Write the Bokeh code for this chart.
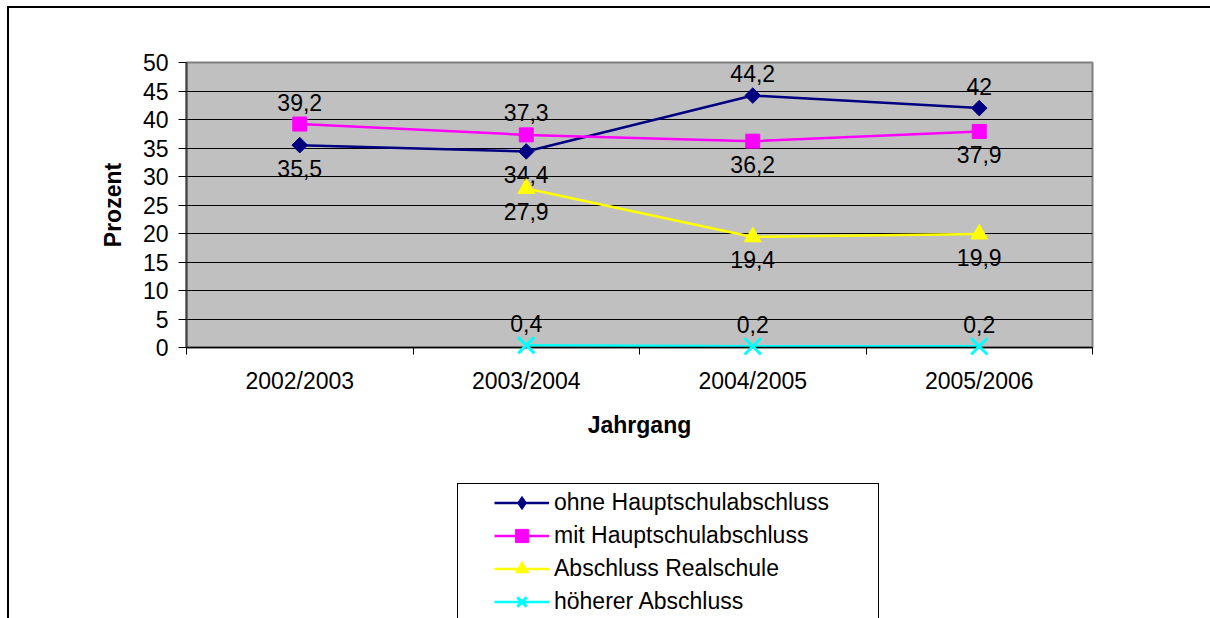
import math
from bokeh.plotting import figure
from bokeh.layouts import column
from bokeh.models import (ColumnDataSource, FixedTicker, Legend, LegendItem,
                          LabelSet, Range1d)
from bokeh.embed import file_html
from bokeh.resources import INLINE
from bokeh.core.properties import value

# ---------------- data ----------------
categories = ["2002/2003", "2003/2004", "2004/2005", "2005/2006"]
ohne_hs = [35.5, 34.4, 44.2, 42.0]
mit_hs = [39.2, 37.3, 36.2, 37.9]
realschule = [float("nan"), 27.9, 19.4, 19.9]
hoeher = [float("nan"), 0.4, 0.2, 0.2]
series_names = ["ohne Hauptschulabschluss", "mit Hauptschulabschluss",
                "Abschluss Realschule", "höherer Abschluss"]
y_ticks = [0, 5, 10, 15, 20, 25, 30, 35, 40, 45, 50]

# label placement per point (style)
ohne_pos = ["below", "below", "above", "above"]
mit_pos = ["above", "above", "below", "below"]
real_pos = ["below", "below", "below", "below"]
hoeher_pos = ["above", "above", "above", "above"]

FONT = "Liberation Sans"
FS = "23px"
W = 1210
H_MAIN, H_LEG = 483, 135

fig = figure(width=W, height=H_MAIN, output_backend="svg", toolbar_location=None,
             x_range=Range1d(0, len(categories)), y_range=Range1d(0, 50),
             min_border_left=186, min_border_right=118,
             min_border_top=62, min_border_bottom=H_MAIN - 347)
# chart-area box edges (top / left) as page decoration
fig.styles = {"background": (
    "linear-gradient(#000,#000) 7px 6px / 2px 100% no-repeat, "
    "linear-gradient(#000,#000) 7px 6px / 100% 2px no-repeat, "
    "#ffffff")}
fig.background_fill_color = "#C0C0C0"
fig.border_fill_alpha = 0
fig.outline_line_color = "#808080"
fig.outline_line_width = 2

xs = [i + 0.5 for i in range(len(categories))]

# axes
xa = fig.xaxis[0]
xa.ticker = FixedTicker(ticks=xs, minor_ticks=list(range(len(categories) + 1)))
xa.major_label_overrides = {x: c for x, c in zip(xs, categories)}
xa.major_tick_out = 0
xa.major_tick_in = 0
xa.minor_tick_out = 7
xa.minor_tick_in = 0
xa.minor_tick_line_color = "#000000"
xa.major_label_standoff = 13
xa.axis_label = "Jahrgang"
xa.axis_label_standoff = 15
xa.axis_line_color = "#000000"
xa.axis_line_width = 1.5

ya = fig.yaxis[0]
ya.ticker = FixedTicker(ticks=y_ticks)
ya.major_tick_out = 8
ya.major_tick_in = 0
ya.minor_tick_out = 0
ya.minor_tick_in = 0
ya.major_label_standoff = 10
ya.axis_label = "Prozent"
ya.axis_label_standoff = 14
ya.axis_line_color = "#404040"
ya.axis_line_width = 2

for ax in (xa, ya):
    ax.major_tick_line_color = "#000000"
    ax.major_label_text_font = FONT
    ax.major_label_text_font_size = FS
    ax.major_label_text_color = "#000000"
    ax.axis_label_text_font = FONT
    ax.axis_label_text_font_size = FS
    ax.axis_label_text_font_style = "bold"
    ax.axis_label_text_color = "#000000"

fig.xgrid.grid_line_color = None
fig.ygrid.ticker = FixedTicker(ticks=y_ticks)
fig.ygrid.grid_line_color = "#000000"
fig.ygrid.grid_line_width = 1

# legend strip below the chart (its frame holds the legend, so nothing is clipped)
leg = figure(width=W, height=H_LEG, output_backend="svg", toolbar_location=None,
             x_axis_location=None, y_axis_location=None,
             x_range=Range1d(100, 101), y_range=Range1d(100, 101),
             min_border_left=0, min_border_right=0,
             min_border_top=0, min_border_bottom=0)
leg.styles = {"background": (
    "linear-gradient(#000,#000) 7px 0px / 2px 100% no-repeat, "
    "linear-gradient(#000,#000) 457px 0px / 1px 100% no-repeat, "
    "linear-gradient(#000,#000) 878px 0px / 1px 100% no-repeat, "
    "linear-gradient(#000,#000) 457px 0px / 422px 1px no-repeat, "
    "#ffffff")}
leg.background_fill_alpha = 0
leg.border_fill_alpha = 0
leg.outline_line_color = None
leg.grid.visible = False

def fmt(v):
    return ("%g" % v).replace(".", ",")

# (values, label placement, colour, marker, size, angle, legend marker, legend size)
specs = [
    (ohne_hs, ohne_pos, "#000080", "square", 11, math.pi / 4, "diamond", 17),
    (mit_hs, mit_pos, "#FF00FF", "square", 14, 0.0, "square", 14),
    (realschule, real_pos, "#FFFF00", "triangle", 17, 0.0, "triangle", 17),
    (hoeher, hoeher_pos, "#00FFFF", "x", 23, 0.0, "x", 23),
]

def draw(f, src, col, marker, size, ang):
    ln = f.line("x", "y", source=src, line_color=col, line_width=2.5)
    if marker == "x":
        mk = f.scatter("x", "y", source=src, marker=marker, size=size,
                       line_color=col, line_width=3, level="overlay")
    else:
        mk = f.scatter("x", "y", source=src, marker=marker, size=size,
                       angle=ang, fill_color=col, line_color=col, line_width=1,
                       level="overlay")
    return ln, mk

items = []
for name, (vals, pos, col, marker, size, ang, lmark, lsize) in zip(series_names, specs):
    src = ColumnDataSource(dict(x=xs, y=vals))
    draw(fig, src, col, marker, size, ang)
    ln2, mk2 = draw(leg, src, col, lmark, lsize, 0.0)
    items.append(LegendItem(label=name, renderers=[ln2, mk2]))
    lx, ly, lt, ld = [], [], [], []
    for x, v, ps in zip(xs, vals, pos):
        if v is None or (isinstance(v, float) and math.isnan(v)):
            continue
        lx.append(x); ly.append(v); lt.append(fmt(v))
        ld.append(22 if ps == "above" else -23)
    lsrc = ColumnDataSource(dict(x=lx, y=ly, t=lt, dy=ld))
    fig.add_layout(LabelSet(x="x", y="y", text="t", source=lsrc, y_offset="dy",
                            text_align="center", text_baseline="middle",
                            text_font=value(FONT), text_font_size=FS,
                            text_color="#000000"))

# column() aligns the strip's frame with the chart frame (left edge at 186 px)
legend = Legend(items=items, location=(494 - 186, 0), margin=0, padding=0,
                spacing=0, glyph_width=55, glyph_height=33, label_height=33,
                label_standoff=5, border_line_alpha=0,
                background_fill_alpha=0,
                label_text_font=FONT, label_text_font_size=FS,
                label_text_color="#000000")
leg.add_layout(legend, "center")

p = column(fig, leg, spacing=0)
open("out.html", "w").write(file_html(p, INLINE))
